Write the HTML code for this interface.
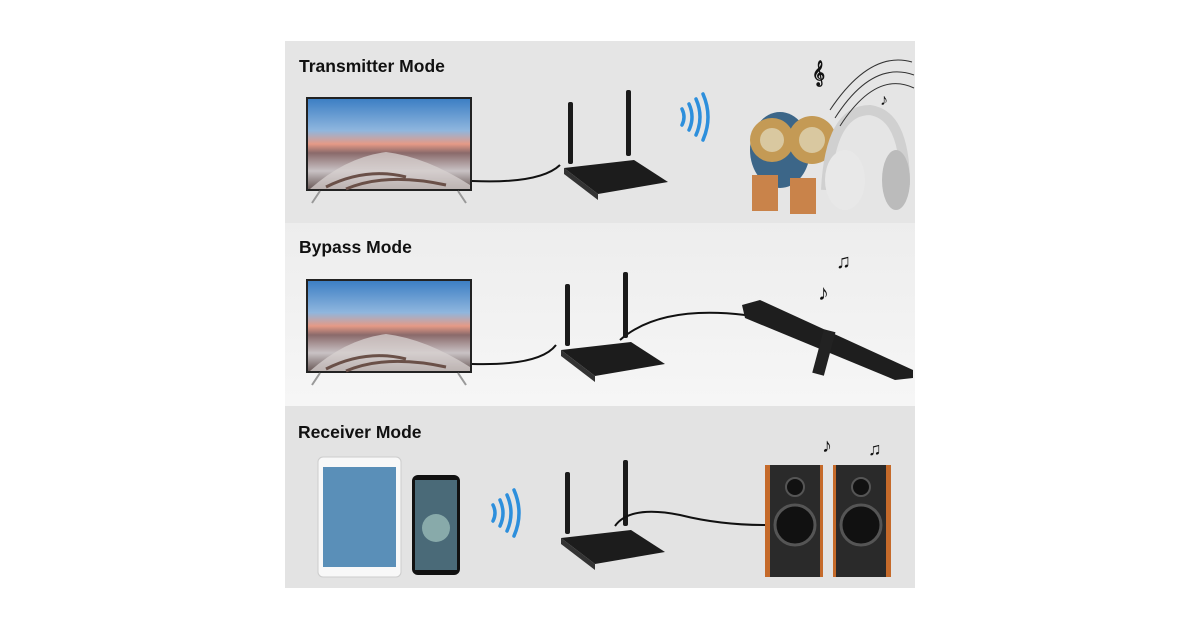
<!DOCTYPE html>
<html><head><meta charset="utf-8"><style>
html,body{margin:0;padding:0;background:#fff;}
body{width:1200px;height:630px;overflow:hidden;}
svg{display:block}
text{font-family:"Liberation Sans",sans-serif;font-weight:bold;fill:#111;}
</style></head><body>
<svg width="1200" height="630" viewBox="0 0 1200 630">
<defs>
<linearGradient id="sky" x1="0" y1="0" x2="0" y2="1">
<stop offset="0" stop-color="#3d7fc4"/><stop offset="0.35" stop-color="#8fb6de"/><stop offset="0.5" stop-color="#e59a86"/><stop offset="0.6" stop-color="#8a6a6a"/><stop offset="0.8" stop-color="#c9c2c4"/><stop offset="1" stop-color="#6a5a58"/>
</linearGradient>
<linearGradient id="mid" x1="0" y1="0" x2="0" y2="1"><stop offset="0" stop-color="#ededed"/><stop offset="1" stop-color="#f6f6f6"/></linearGradient>
<g id="tv">
<rect x="0" y="0" width="166" height="94" fill="#222"/>
<rect x="2" y="2" width="162" height="90" fill="url(#sky)"/>
<path d="M4 92 Q40 60 80 55 Q120 60 164 88 L164 92Z" fill="#d8d2d0" opacity=".75"/>
<path d="M20 90 Q60 70 100 80 M40 92 Q80 75 140 88" stroke="#6a5048" stroke-width="3" fill="none"/>
<line x1="14" y1="94" x2="6" y2="106" stroke="#999" stroke-width="2"/>
<line x1="152" y1="94" x2="160" y2="106" stroke="#999" stroke-width="2"/>
</g>
<g id="dev">
<rect x="0" y="-58" width="5" height="62" rx="2" fill="#1a1a1a"/>
<rect x="58" y="-70" width="5" height="66" rx="2" fill="#1a1a1a"/>
<path d="M-4 8 L66 0 L100 22 L30 34 Z" fill="#1c1c1c"/>
<path d="M-4 8 L30 34 L30 40 L-4 14Z" fill="#333"/>
</g>
<g id="wave" fill="none" stroke="#2d8fdc" stroke-width="3.5" stroke-linecap="round">
<path d="M0 -8 Q4 0 0 8"/><path d="M7 -13 Q13 0 7 13"/><path d="M14 -18 Q22 0 14 18"/><path d="M21 -23 Q31 0 21 23"/>
</g>
</defs>
<rect x="285" y="41" width="630" height="182" fill="#e5e5e5"/>
<rect x="285" y="223" width="630" height="183" fill="url(#mid)"/>
<rect x="285" y="406" width="630" height="182" fill="#e3e3e3"/>
<text x="299" y="72" font-size="17.5">Transmitter Mode</text>
<text x="299" y="253" font-size="17.5">Bypass Mode</text>
<text x="298" y="438" font-size="17.5">Receiver Mode</text>
<!-- row 1 -->
<use href="#tv" x="306" y="97"/>
<path d="M472 181 Q540 184 560 165" stroke="#111" stroke-width="2" fill="none"/>
<use href="#dev" x="568" y="160"/>
<use href="#wave" x="682" y="117"/>
<ellipse cx="780" cy="150" rx="30" ry="38" fill="#3c6688"/>
<circle cx="772" cy="140" r="22" fill="#c49a55"/><circle cx="772" cy="140" r="12" fill="#d9c8a0"/>
<circle cx="812" cy="140" r="24" fill="#c49a55"/><circle cx="812" cy="140" r="13" fill="#d9c8a0"/>
<rect x="752" y="175" width="26" height="36" fill="#c9834a"/><rect x="790" y="178" width="26" height="36" fill="#c9834a"/>
<path d="M826 190 Q830 110 870 110 Q905 115 905 185" stroke="#d0d0d0" stroke-width="10" fill="none"/>
<ellipse cx="845" cy="180" rx="20" ry="30" fill="#e8e8e8"/><ellipse cx="896" cy="180" rx="14" ry="30" fill="#bbb"/>
<path d="M830 110 Q870 50 912 62 M835 118 Q872 60 914 75 M840 126 Q876 70 914 88" stroke="#333" stroke-width="1" fill="none"/>
<text x="812" y="80" font-size="22" font-weight="normal">𝄞</text>
<text x="880" y="105" font-size="16" font-weight="normal">♪</text>
<!-- row 2 -->
<use href="#tv" x="306" y="279"/>
<path d="M472 364 Q540 366 556 345" stroke="#111" stroke-width="2" fill="none"/>
<path d="M620 340 Q660 305 745 315" stroke="#111" stroke-width="2" fill="none"/>
<use href="#dev" x="565" y="342"/>
<path d="M742 305 L760 300 L913 370 L913 378 L895 380 L745 318Z" fill="#1e1e1e"/>
<rect x="818" y="330" width="12" height="45" fill="#222" transform="rotate(15 824 352)"/>
<text x="818" y="300" font-size="22" font-weight="normal">♪</text><text x="836" y="268" font-size="20" font-weight="normal">♫</text>
<!-- row 3 -->
<rect x="318" y="457" width="83" height="120" rx="5" fill="#f8f8f8" stroke="#ccc"/>
<rect x="323" y="467" width="73" height="100" fill="#5a8fb8"/>
<rect x="412" y="475" width="48" height="100" rx="6" fill="#111"/>
<rect x="415" y="480" width="42" height="90" fill="#4a6a78"/>
<circle cx="436" cy="528" r="14" fill="#8aa"/>
<use href="#wave" x="493" y="513"/>
<use href="#dev" x="565" y="530"/>
<path d="M615 526 Q630 505 680 515 Q720 525 765 525" stroke="#111" stroke-width="2" fill="none"/>
<rect x="765" y="465" width="58" height="112" fill="#c56a2a"/>
<rect x="770" y="465" width="50" height="112" fill="#2a2a2a"/>
<circle cx="795" cy="525" r="20" fill="#111" stroke="#555" stroke-width="3"/>
<circle cx="795" cy="487" r="9" fill="#111" stroke="#555" stroke-width="2"/>
<rect x="833" y="465" width="58" height="112" fill="#c56a2a"/>
<rect x="836" y="465" width="50" height="112" fill="#2a2a2a"/>
<circle cx="861" cy="525" r="20" fill="#111" stroke="#555" stroke-width="3"/>
<circle cx="861" cy="487" r="9" fill="#111" stroke="#555" stroke-width="2"/>
<text x="822" y="452" font-size="20" font-weight="normal">♪</text><text x="868" y="455" font-size="18" font-weight="normal">♫</text>
</svg>
</body></html>
